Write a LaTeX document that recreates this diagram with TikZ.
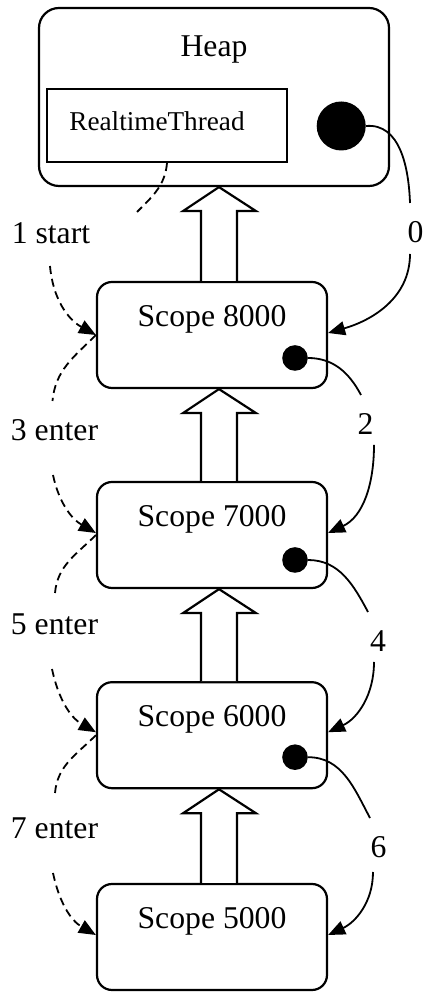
\documentclass[tikz,border=0pt]{standalone}
\usepackage{fontspec}
\setmainfont{Liberation Serif}
\usetikzlibrary{arrows.meta,calc}

% hollow block arrow from the top of box #1 up to the bottom of box #2
\newcommand\hollowup[2]{%
  \draw[lift] let \p1=(#1.north), \p2=(#2.south) in
    (\x1-11pt,\y1) -- (\x1-11pt,\y2-24pt) -- (\x1-29pt,\y2-24pt) -- (\x1+7pt,\y2)
    -- (\x1+44pt,\y2-24pt) -- (\x1+25pt,\y2-24pt) -- (\x1+25pt,\y1);}

\tikzset{
  scopebox/.style={draw, line width=2.2pt, rounded corners=15pt,
    minimum width=230pt, minimum height=106pt, inner sep=0pt},
  heapbox/.style={draw, line width=2.2pt, rounded corners=20pt,
    minimum width=350pt, minimum height=178pt, inner sep=0pt},
  threadbox/.style={draw, line width=2.2pt,
    minimum width=240pt, minimum height=73pt, inner sep=0pt},
  bigdot/.style={circle, fill=black, minimum size=49pt, inner sep=0pt},
  smalldot/.style={circle, fill=black, minimum size=25.6pt, inner sep=0pt},
  txt/.style={anchor=base, inner sep=0pt, font=\fontsize{31.7pt}{38pt}\selectfont},
  refpart/.style={line width=1.8pt},
  refarrow/.style={refpart, -{Triangle[length=17pt,width=14pt]}},
  callpart/.style={refpart, dash pattern=on 8pt off 5pt},
  callarrow/.style={refarrow, dash pattern=on 8pt off 5pt},
  lift/.style={draw, line width=2.2pt, line join=miter, fill=white},
}

\begin{document}
\begin{tikzpicture}[x=1pt, y=1pt]
\useasboundingbox (0,0) rectangle (426,992);

% heap with the thread object and its reference
\node[heapbox] (heap) at (214,895) {};
\node[txt] (heaplbl) at (214,935) {Heap};
\node[threadbox] (rt) at (167,866.5) {};
\node[txt, font=\fontsize{27.2pt}{33pt}\selectfont] (rtlbl) at (157,861) {RealtimeThread};
\node[bigdot] (hdot) at (341.2,866) {};

% nested scoped memory areas
\node[scopebox] (s8) at (212,657) {};
\node[scopebox] (s7) at (212,457) {};
\node[scopebox] (s6) at (212,256.8) {};
\node[scopebox] (s5) at (212,55) {};
\node[txt] (s8lbl) at ($(s8.center)+(0,8.5)$) {Scope 8000};
\node[txt] (s7lbl) at ($(s7.center)+(0,8.5)$) {Scope 7000};
\node[txt] (s6lbl) at ($(s6.center)+(0,8.5)$) {Scope 6000};
\node[txt] (s5lbl) at ($(s5.center)+(0,8.5)$) {Scope 5000};
\node[smalldot] (d8) at ($(s8.center)+(83,-23)$) {};
\node[smalldot] (d7) at ($(s7.center)+(83,-25)$) {};
\node[smalldot] (d6) at ($(s6.center)+(83,-22)$) {};

% parent links
\hollowup{s8}{heap}
\hollowup{s7}{s8}
\hollowup{s6}{s7}
\hollowup{s5}{s6}

% labels
\node[txt] (l0) at (415.5,749.3) {0};
\node[txt] (l2) at (365.5,557.7) {2};
\node[txt] (l4) at (378,340.3) {4};
\node[txt] (l6) at (378.5,134.7) {6};
\node[txt] (l1) at (51,748.7) {1 start};
\node[txt] (l3) at (54.5,551) {3 enter};
\node[txt] (l5) at (54.5,357) {5 enter};
\node[txt] (l7) at (54.5,153.7) {7 enter};

% reference chain on the right
\coordinate (c0a) at (410,789);
\coordinate (c0b) at (410,738);
\draw[refpart] (hdot.east) to[out=5,in=92] (c0a);
\draw[refarrow] (c0b) to[out=-90,in=16] ([yshift=2pt]s8.east);

\coordinate (c2a) at (361,597);
\coordinate (c2b) at (374,547);
\draw[refpart] (d8.east) to[out=0,in=118] (c2a);
\draw[refarrow] (c2b) to[out=-90,in=25] ([yshift=2pt]s7.east);

\coordinate (c4a) at (368,380);
\coordinate (c4b) at (374,330);
\draw[refpart] (d7.east) to[out=0,in=118] (c4a);
\draw[refarrow] (c4b) to[out=-90,in=25] ([yshift=3pt]s6.east);

\coordinate (c6a) at (370,174);
\coordinate (c6b) at (373,120);
\draw[refpart] (d6.east) to[out=0,in=118] (c6a);
\draw[refarrow] (c6b) to[out=-90,in=25] ([yshift=2pt]s5.east);

% start / enter calls on the left
\coordinate (c1a) at (137,780);
\coordinate (c1b) at (50,726);
\draw[callpart] (rt.south) to[out=-95,in=45] (c1a);
\draw[callarrow] (c1b) to[out=-85,in=151] (s8.west);

\coordinate (c3a) at (52.5,591);
\coordinate (c3b) at (53,517);
\draw[callpart] (s8.west) to[out=-135,in=85] (c3a);
\draw[callarrow] (c3b) to[out=-78,in=150] ([yshift=2pt]s7.west);

\coordinate (c5a) at (55,399);
\coordinate (c5b) at (52,323);
\draw[callpart] (s7.west) to[out=-135,in=85] (c5a);
\draw[callarrow] (c5b) to[out=-78,in=150] ([yshift=3pt]s6.west);

\coordinate (c7a) at (55,199);
\coordinate (c7b) at (53,119);
\draw[callpart] (s6.west) to[out=-135,in=85] (c7a);
\draw[callarrow] (c7b) to[out=-78,in=150] ([yshift=2pt]s5.west);
\end{tikzpicture}
\end{document}
